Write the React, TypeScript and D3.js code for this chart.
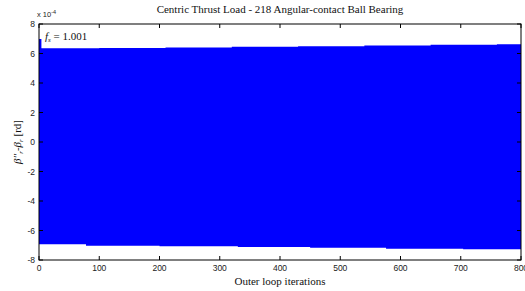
import React from "react";
import * as d3 from "d3";

const upperIters = [0, 4, 100, 210, 320, 430, 540, 650, 760, 800];
const upperVals = [6.98, 6.35, 6.37, 6.4, 6.45, 6.5, 6.55, 6.6, 6.63, 6.63];
const lowerIters = [0, 78, 200, 330, 450, 576, 704, 800];
const lowerVals = [-6.94, -7.03, -7.07, -7.12, -7.17, -7.24, -7.27, -7.27];
const xTicks = [0, 100, 200, 300, 400, 500, 600, 700, 800];
const yTicks = [-8, -6, -4, -2, 0, 2, 4, 6, 8];

const W = 525, H = 291;
const L = 39, R = 521, T = 24, B = 260;

export default function App() {
  const x = d3.scaleLinear().domain([0, 800]).range([L, R]);
  const y = d3.scaleLinear().domain([-8, 8]).range([B, T]);
  const allIters = Array.from(new Set([...upperIters, ...lowerIters])).sort((a, b) => a - b);
  const lookup = (its: number[], vals: number[], it: number) => {
    let v = vals[0];
    for (let i = 0; i < its.length; i++) if (its[i] <= it) v = vals[i];
    return v;
  };
  const pts = allIters.map((it) => ({ it, hi: lookup(upperIters, upperVals, it), lo: lookup(lowerIters, lowerVals, it) }));
  const area = d3
    .area<{ it: number; hi: number; lo: number }>()
    .x((d) => x(d.it))
    .y0((d) => y(d.lo))
    .y1((d) => y(d.hi))
    .curve(d3.curveStepAfter);
  const sans = "Liberation Sans, Arial, sans-serif";
  const serif = "Liberation Serif, Times New Roman, serif";
  return (
    <svg width={W} height={H} style={{ position: "absolute", left: 0, top: 0, background: "#fff" }}>
      <rect x={0} y={0} width={W} height={H} fill="#fff" />
      <path d={area(pts) || ""} fill="#0000ff" />
      <rect x={L} y={T} width={R - L} height={B - T} fill="none" stroke="#000" strokeWidth={1} />
      {xTicks.map((t) => (
        <g key={"x" + t}>
          <line x1={x(t)} x2={x(t)} y1={B} y2={B - 4} stroke="#000" />
          <line x1={x(t)} x2={x(t)} y1={T} y2={T + 4} stroke="#000" />
          <text x={x(t)} y={B + 11} fontSize={8.5} fontFamily={sans} textAnchor="middle" fill="#222">{t}</text>
        </g>
      ))}
      {yTicks.map((t) => (
        <g key={"y" + t}>
          <line x1={L} x2={L + 4} y1={y(t)} y2={y(t)} stroke="#000" />
          <line x1={R} x2={R - 4} y1={y(t)} y2={y(t)} stroke="#000" />
          <text x={L - 4} y={y(t) + 3} fontSize={8.5} fontFamily={sans} textAnchor="end" fill="#222">{t}</text>
        </g>
      ))}
      <text x={37} y={17} fontSize={7.5} fontFamily={sans} fill="#222">
        x 10<tspan dy={-3} fontSize={5.5}>-4</tspan>
      </text>
      <text x={280} y={13} fontSize={11} fontFamily={serif} textAnchor="middle" fill="#111">
        Centric Thrust Load - 218 Angular-contact Ball Bearing
      </text>
      <text x={280} y={285} fontSize={11} fontFamily={serif} textAnchor="middle" fill="#111">
        Outer loop iterations
      </text>
      <text x={45} y={40} fontSize={11} fontFamily={serif} fill="#111">
        <tspan fontStyle="italic">f</tspan>
        <tspan fontSize={7} fontStyle="italic" dy={2}>s</tspan>
        <tspan dy={-2}> = 1.001</tspan>
      </text>
      <text transform={`translate(21,${(T + B) / 2}) rotate(-90)`} fontSize={11} fontFamily={serif} textAnchor="middle" fill="#111">
        <tspan fontStyle="italic">β''</tspan>
        <tspan fontSize={7} fontStyle="italic" dy={2}>r</tspan>
        <tspan dy={-2}>-</tspan>
        <tspan fontStyle="italic">β</tspan>
        <tspan fontSize={7} fontStyle="italic" dy={2}>r</tspan>
        <tspan dy={-2}>  [rd]</tspan>
      </text>
    </svg>
  );
}
